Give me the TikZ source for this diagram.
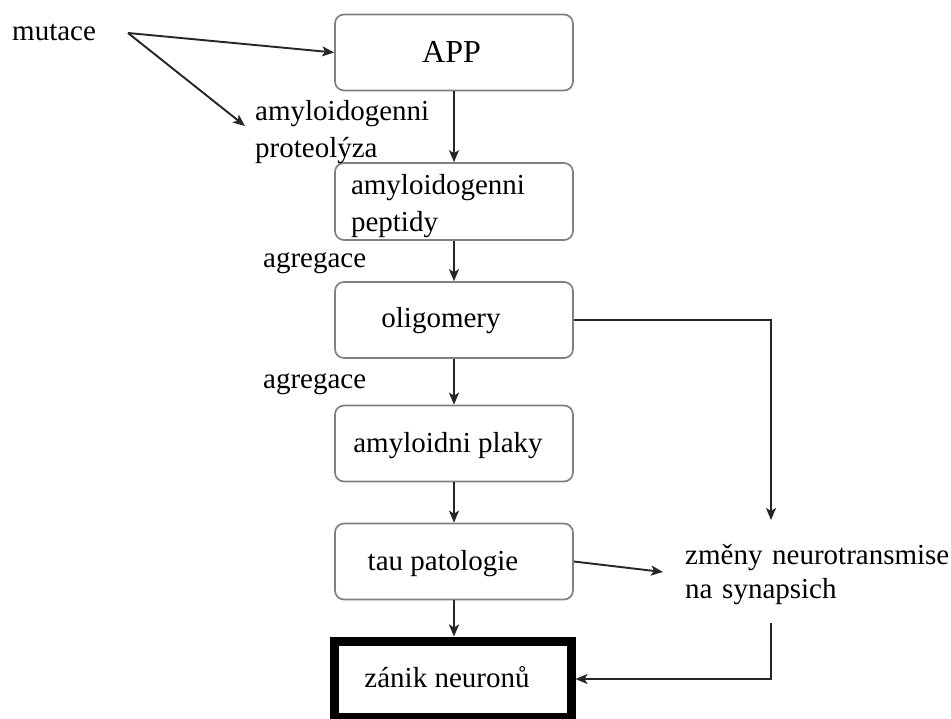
\documentclass[tikz,border=0pt]{standalone}
\usepackage{fontspec}
\setmainfont{Liberation Serif}
\usetikzlibrary{arrows.meta}
\begin{document}
\begin{tikzpicture}[x=1pt,y=-1pt,
  boxbase/.style={draw=black!50, line width=1.7pt, rounded corners=9pt,
    minimum width=238pt, minimum height=76pt, inner sep=0pt,
    font=\fontsize{29}{37}\selectfont},
  box/.style={boxbase, text height=21pt, text depth=5pt},
  endbox/.style={draw=black, line width=9pt, minimum width=237pt, minimum height=76pt,
    inner sep=0pt, font=\fontsize{29}{37}\selectfont, text height=21pt, text depth=5pt},
  lbl/.style={inner sep=0pt, font=\fontsize{29}{37}\selectfont, anchor=base west},
  conn/.style={draw=black!85, line width=1.9pt, -{Stealth[length=12pt,width=10pt,inset=3pt]}}
]
\useasboundingbox (0,0) rectangle (951,718);
\fill[white] (0,0) rectangle (951,718);

% boxes
\node[box, font=\fontsize{32}{38}\selectfont, text height=24pt, text depth=5pt] (app) at (454,52.5) {APP\kern5pt};
\node[boxbase, minimum height=77pt, text width=206pt, align=left] (pep) at (454,201.5)
  {\rule{0pt}{28.3pt}amyloidogenni\\peptidy};
\node[box, text height=20pt, text depth=6pt] (olig) at (454,320) {oligomery\kern26pt};
\node[box, text height=22pt, text depth=5pt] (plaky) at (454,443.5) {amyloidni plaky\kern12pt};
\node[box, text height=22pt, text depth=5pt] (tau) at (454,561.5) {tau patologie\kern22pt};
\node[endbox] (zanik) at (452.5,679) {zánik neuronů\kern11pt};

% free labels
\node[lbl] (mut) at (12,40) {mutace};
\node[lbl, text width=180pt, align=left] (prot) at (255,120) {amyloidogenni\\proteolýza};
\node[lbl] (ag1) at (263,267) {agregace};
\node[lbl] (ag2) at (263,388) {agregace};
\node[lbl, text width=300pt, align=left, font=\fontsize{29}{34}\selectfont] (zm) at (685,564)
  {změny neurotransmise\\na synapsich};

% free connector ends
\coordinate (mt) at (128,33);
\coordinate (pt) at (245,126);
\coordinate (zt) at (771,520);
\coordinate (zb) at (771,623);
\coordinate (zl) at (663,572);

% connectors
\draw[conn] (mt) -- (app.west);
\draw[conn] (mt) -- (pt);
\draw[conn] (app.south) -- (pep.north);
\draw[conn] (pep.south) -- (olig.north);
\draw[conn] (olig.south) -- (plaky.north);
\draw[conn] (plaky.south) -- (tau.north);
\draw[conn] (tau.south) -- (tau.south |- zanik.north);
\draw[conn] (olig.east) -| (zt);
\draw[conn] (tau.east) -- (zl);
\draw[conn] (zb) |- (zanik.east);
\end{tikzpicture}
\end{document}
